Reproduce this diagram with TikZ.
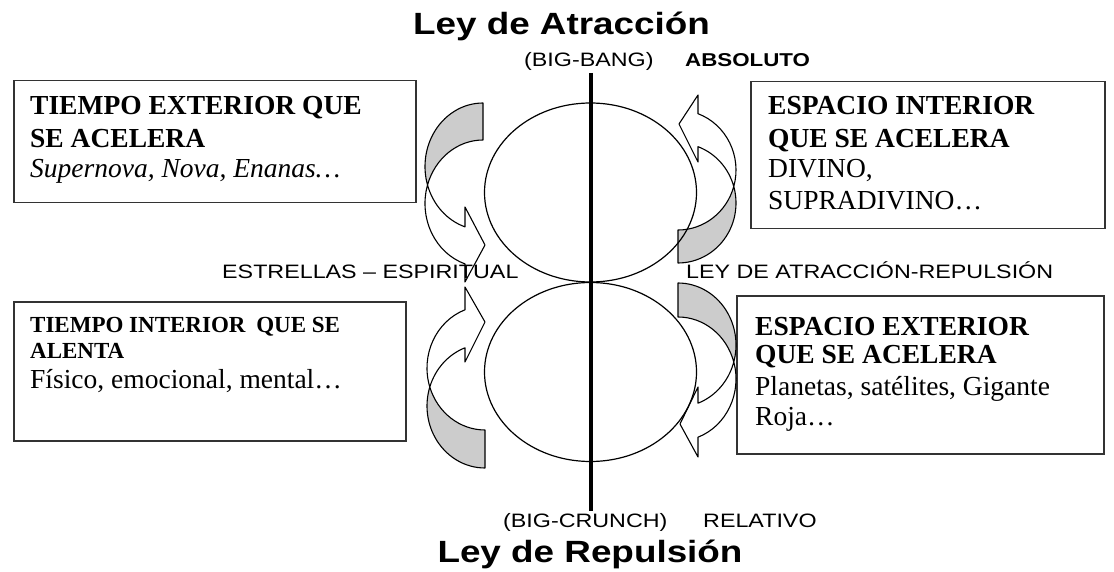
\documentclass[tikz,border=0pt]{standalone}
\usepackage{fontspec}
\setmainfont{Liberation Serif}
\newfontfamily\arialfont{Liberation Sans}
\usetikzlibrary{shapes.geometric}
\newcommand\widetxt[1]{\scalebox{1.2}[1]{#1}}
\begin{document}
\begin{tikzpicture}[x=1pt,y=-1pt,
  boxframe/.style={draw=black!80, line width=1.5pt, rectangle, inner sep=0pt, anchor=north west},
  backband/.style={draw=black, fill=black!20, line width=1.1pt, line join=round},
  frontband/.style={draw=black, fill=white, line width=1.1pt, line join=round},
  oval/.style={draw=black, ellipse, line width=1.2pt, inner sep=0pt, minimum width=212pt, minimum height=179pt},
  boxtxt/.style={inner sep=0pt, anchor=base west, font=\fontsize{27.5}{30}\selectfont},
  smallbold/.style={inner sep=0pt, anchor=base west, font=\bfseries\fontsize{23}{26}\selectfont},
  labeltxt/.style={inner sep=0pt, anchor=base west, font=\arialfont\fontsize{19.4}{22}\selectfont},
  titletxt/.style={inner sep=0pt, anchor=base, font=\arialfont\bfseries\fontsize{30.7}{34}\selectfont}
]
\useasboundingbox (0,0) rectangle (1114,572);

% boxes
\node[boxframe, minimum width=402pt, minimum height=122pt] (tlbox) at (13,80) {};
\node[boxframe, minimum width=354pt, minimum height=147pt] (trbox) at (750,81) {};
\node[boxframe, minimum width=392pt, minimum height=139pt] (blbox) at (13,301) {};
\node[boxframe, minimum width=367pt, minimum height=158pt] (brbox) at (736,295) {};

% top-left curved arrow
\draw[backband] (483,103) arc[start angle=270, end angle=163.06, x radius=58, y radius=63.5]
  arc[start angle=196.94, end angle=270, x radius=58, y radius=63.5] -- cycle;
\draw[frontband] (427.52,185) arc[start angle=196.94, end angle=108.08, x radius=58, y radius=63.5]
  -- (465,282) -- (485,245) -- (465,207) -- (465,226.86)
  arc[start angle=108.08, end angle=163.06, x radius=58, y radius=63.5] -- cycle;

% bottom-left curved arrow
\draw[backband] (485,468) arc[start angle=90, end angle=197.85, x radius=58, y radius=62]
  arc[start angle=162.15, end angle=90, x radius=58, y radius=62] -- cycle;
\draw[frontband] (429.79,387) arc[start angle=162.15, end angle=249.83, x radius=58, y radius=62]
  -- (465,287) -- (485,322) -- (465,362) -- (465,347.8)
  arc[start angle=249.83, end angle=197.85, x radius=58, y radius=62] -- cycle;

% top-right curved arrow
\draw[backband] (678,263) arc[start angle=90, end angle=-15.96, x radius=58, y radius=60]
  arc[start angle=15.96, end angle=90, x radius=58, y radius=60] -- cycle;
\draw[frontband] (733.76,186.5) arc[start angle=15.96, end angle=-69.83, x radius=58, y radius=60]
  -- (698,95) -- (679,124) -- (698,162) -- (698,146.68)
  arc[start angle=-69.83, end angle=-15.96, x radius=58, y radius=60] -- cycle;

% bottom-right curved arrow
\draw[backband] (678,283) arc[start angle=-90, end angle=15.91, x radius=58, y radius=62]
  arc[start angle=-15.91, end angle=-90, x radius=58, y radius=62] -- cycle;
\draw[frontband] (733.78,362) arc[start angle=-15.91, end angle=69.83, x radius=58, y radius=62]
  -- (698,457) -- (680,424) -- (698,387) -- (698,403.2)
  arc[start angle=69.83, end angle=15.91, x radius=58, y radius=62] -- cycle;

% ellipses
\node[oval] (upper) at (590.5,192.5) {};
\node[oval] (lower) at (590.5,372) {};

% vertical axis
\coordinate (axtop) at (591,73);
\coordinate (axbot) at (591,511);
\draw[line width=3.5pt] (axtop) -- (axbot);

% titles and labels
\node[titletxt] (ttop) at (561.5,35) {\widetxt{Ley de Atracción}};
\node[titletxt] (tbot) at (590,562) {\widetxt{Ley de Repulsión}};
\node[labeltxt] (bigbang) at (524,67) {\widetxt{(BIG-BANG)}};
\node[labeltxt, font=\arialfont\bfseries\fontsize{18.6}{22}\selectfont] (absoluto) at (685,67) {\widetxt{ABSOLUTO}};
\node[labeltxt] (estrellas) at (222,279) {\widetxt{ESTRELLAS – ESPIRITUAL}};
\node[labeltxt] (leyar) at (686,279) {\widetxt{LEY DE ATRACCIÓN-REPULSIÓN}};
\node[labeltxt] (bigcrunch) at (503,527) {\widetxt{(BIG-CRUNCH)}};
\node[labeltxt] (relativo) at (703,527) {\widetxt{RELATIVO}};

% box texts
\node[boxtxt, font=\bfseries\fontsize{27.5}{30}\selectfont] (tla) at (30,115) {TIEMPO EXTERIOR QUE};
\node[boxtxt, font=\bfseries\fontsize{27.5}{30}\selectfont] (tlb) at (30,148) {SE ACELERA};
\node[boxtxt, font=\itshape\fontsize{27.5}{30}\selectfont] (tlc) at (30,178) {Supernova, Nova, Enanas…};

\node[boxtxt, font=\bfseries\fontsize{27.5}{30}\selectfont] (tra) at (768,115) {ESPACIO INTERIOR};
\node[boxtxt, font=\bfseries\fontsize{27.5}{30}\selectfont] (trb) at (768,148) {QUE SE ACELERA};
\node[boxtxt] (trc) at (768,178) {DIVINO,};
\node[boxtxt] (trd) at (768,210) {SUPRADIVINO…};

\node[smallbold] (bla) at (30,332) {TIEMPO INTERIOR\hspace{5pt} QUE SE};
\node[smallbold] (blb) at (30,358) {ALENTA};
\node[boxtxt] (blc) at (30,388) {Físico, emocional, mental…};

\node[boxtxt, font=\bfseries\fontsize{27.5}{30}\selectfont] (bra) at (755,335) {ESPACIO EXTERIOR};
\node[boxtxt, font=\bfseries\fontsize{27.5}{30}\selectfont] (brb) at (755,363) {QUE SE ACELERA};
\node[boxtxt] (brc) at (755,395) {Planetas, satélites, Gigante};
\node[boxtxt] (brd) at (755,425) {Roja…};
\end{tikzpicture}
\end{document}
